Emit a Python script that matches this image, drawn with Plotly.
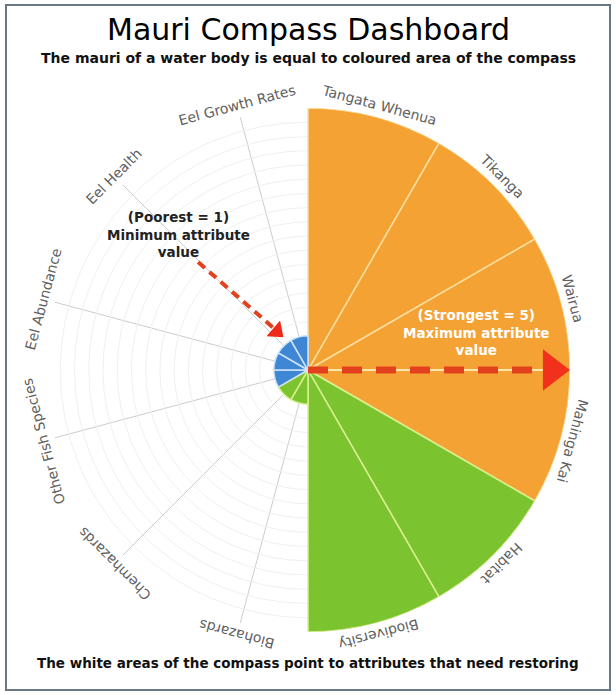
import math
import plotly.graph_objects as go

# ---------------- data ----------------
categories = ["Tangata Whenua", "Tikanga", "Wairua", "Mahinga Kai",
              "Habitat", "Biodiversity", "Biohazards", "Chemhazards",
              "Other Fish Species", "Eel Abundance", "Eel Health", "Eel Growth Rates"]
scores = [5, 5, 5, 5, 5, 5, 1, 1, 1, 1, 1, 1]
groups = ["Cultural", "Cultural", "Cultural", "Cultural",
          "Environment", "Environment", "Environment", "Environment",
          "Fish", "Fish", "Fish", "Fish"]
min_score = 1
max_score = 5

title_text = "Mauri Compass Dashboard"
subtitle_text = "The mauri of a water body is equal to coloured area of the compass"
footer_text = "The white areas of the compass point to attributes that need restoring"
poorest_text = "(Poorest = 1)<br>Minimum attribute<br>value"
strongest_text = "(Strongest = 5)<br>Maximum attribute<br>value"

# ---------------- style ----------------
W, H = 616, 695
CX, CY, RAD = 308, 370, 262          # compass centre / radius in px
LABEL_R = 274
fill_colors = {"Cultural": "#F5A234", "Environment": "#7CC42F", "Fish": "#3F87D5"}
edge_colors = {"Cultural": "#FBDD9C", "Environment": "#D9F08E", "Fish": "#CFE3F7"}
FONT = "DejaVu Sans"

dom_x = [(CX - RAD) / W, (CX + RAD) / W]
dom_y = [(H - CY - RAD) / H, (H - CY + RAD) / H]
n = len(categories)
step = 360 / n

fig = go.Figure()
fig.add_trace(go.Barpolar(
    r=scores, theta=categories, base=0,
    marker=dict(color=[fill_colors[g] for g in groups],
                line=dict(color=[edge_colors[g] for g in groups], width=1.5)),
    hoverinfo="theta+r", showlegend=False, subplot="polar"))

# arrows on an overlay polar with a numeric angular axis (fraction of radius)
fig.add_trace(go.Scatterpolar(r=[0, 0.9], theta=[90, 90], mode="lines",
                              line=dict(color="#F8E6B0", width=2),
                              showlegend=False, hoverinfo="skip", subplot="polar2"))
fig.add_trace(go.Scatterpolar(r=[0.0, 0.88], theta=[90, 90], mode="lines",
                              line=dict(color="#E3401E", width=7, dash="20px,14px"),
                              showlegend=False, hoverinfo="skip", subplot="polar2"))
fig.add_trace(go.Scatterpolar(r=[0.931], theta=[90], mode="markers",
                              marker=dict(symbol="triangle-right", size=36, color="#F2311C"),
                              showlegend=False, hoverinfo="skip", subplot="polar2"))
fig.add_trace(go.Scatterpolar(r=[0.588, 0.2], theta=[314.5, 321], mode="lines",
                              line=dict(color="#E3401E", width=4, dash="9px,6px"),
                              showlegend=False, hoverinfo="skip", subplot="polar2"))
fig.add_trace(go.Scatterpolar(r=[0.19], theta=[321], mode="markers",
                              marker=dict(symbol="triangle-up", size=18, angle=131, color="#EE2A1A"),
                              showlegend=False, hoverinfo="skip", subplot="polar2"))

annotations = []
# tangential category labels
for i, cat in enumerate(categories):
    ang = (i + 0.5) * step
    x = (CX + LABEL_R * math.sin(math.radians(ang))) / W
    y = 1 - (CY - LABEL_R * math.cos(math.radians(ang))) / H
    annotations.append(dict(text=cat, x=x, y=y, xref="paper", yref="paper",
                            xanchor="center", yanchor="middle", showarrow=False,
                            textangle=ang, font=dict(family=FONT, size=14, color="#606060")))

annotations += [
    dict(text=title_text, x=0.5, y=1 - 29 / H, xref="paper", yref="paper",
         xanchor="center", yanchor="middle", showarrow=False,
         font=dict(family=FONT, size=30, color="#000000")),
    dict(text="<b>" + subtitle_text + "</b>", x=0.5, y=1 - 58 / H, xref="paper", yref="paper",
         xanchor="center", yanchor="middle", showarrow=False,
         font=dict(family=FONT, size=14, color="#111111")),
    dict(text="<b>" + footer_text + "</b>", x=0.5, y=1 - 663 / H, xref="paper", yref="paper",
         xanchor="center", yanchor="middle", showarrow=False,
         font=dict(family=FONT, size=13.5, color="#111111")),
    dict(text="<b>" + poorest_text + "</b>", x=178 / W, y=1 - 234 / H, xref="paper", yref="paper",
         xanchor="center", yanchor="middle", showarrow=False, align="center",
         font=dict(family=FONT, size=13.5, color="#222222")),
    dict(text="<b>" + strongest_text + "</b>", x=476 / W, y=1 - 332 / H, xref="paper", yref="paper",
         xanchor="center", yanchor="middle", showarrow=False, align="center",
         font=dict(family=FONT, size=13.5, color="#FFFFFF")),
]

fig.update_layout(
    width=W, height=H, margin=dict(l=0, r=0, t=0, b=0),
    paper_bgcolor="white", plot_bgcolor="white",
    polar=dict(
        domain=dict(x=dom_x, y=dom_y), bgcolor="white", bargap=0,
        angularaxis=dict(type="category", categoryarray=categories, rotation=90 - step / 2,
                         direction="clockwise", showticklabels=False, ticks="",
                         showline=False, gridcolor="#cccccc", gridwidth=1),
        radialaxis=dict(range=[0.4, max_score], showticklabels=False, ticks="", showline=False,
                        gridcolor="#f0f0f0", gridwidth=1, tick0=0, dtick=0.25),
    ),
    polar2=dict(
        domain=dict(x=dom_x, y=dom_y), bgcolor="rgba(0,0,0,0)",
        angularaxis=dict(visible=False, rotation=90, direction="clockwise"),
        radialaxis=dict(visible=False, range=[0, 1]),
    ),
    annotations=annotations,
    shapes=[dict(type="rect", xref="paper", yref="paper",
                 x0=6 / W, x1=610 / W, y0=1 - 690 / H, y1=1 - 5 / H,
                 line=dict(color="#6a7886", width=2), fillcolor="rgba(0,0,0,0)")],
    showlegend=False,
)

fig.write_html("out.html", config={"displayModeBar": False},
               post_script="document.body.style.margin='0';")
